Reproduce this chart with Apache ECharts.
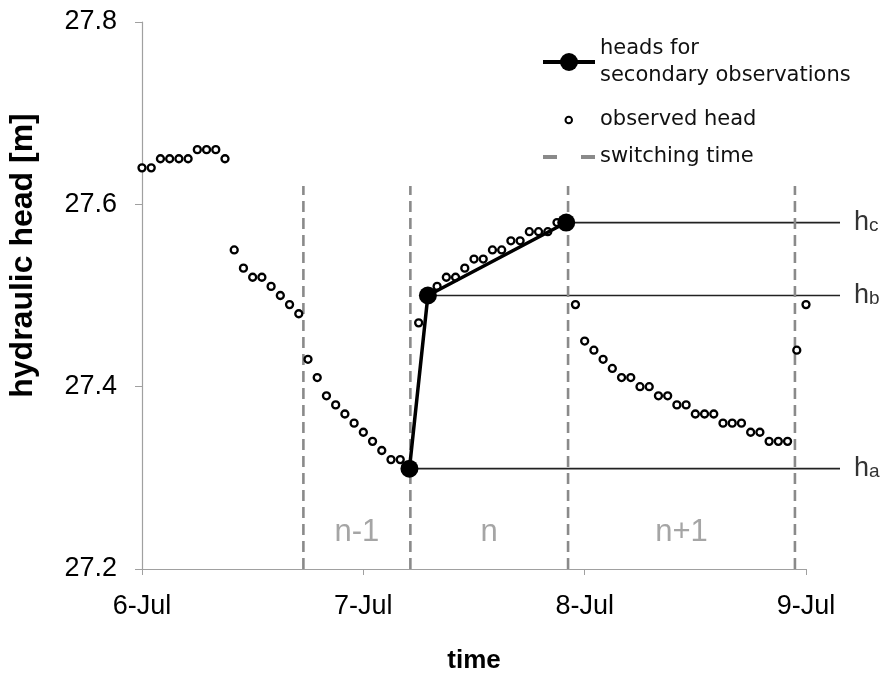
<!DOCTYPE html>
<html>
<head>
<meta charset="utf-8">
<script src="https://cdn.jsdelivr.net/npm/echarts@6/dist/echarts.min.js"></script>
<style>
html,body{margin:0;padding:0;background:#fff;}
#chart{width:882px;height:677px;}
</style>
</head>
<body>
<div id="chart"></div>
<script>
// ---- data (hours since 6-Jul 00:00, head in m) ----
var obsHours = [0,1,2,3,4,5,6,7,8,9,10,11,12,13,14,15,16,17,18,19,20,21,22,23,24,25,26,27,28,29,30,31,32,33,34,35,36,37,38,39,40,41,42,43,44,45,46,47,48,49,50,51,52,53,54,55,56,57,58,59,60,61,62,63,64,65,66,67,68,69,70,71,72];
var obsHead = [27.64,27.64,27.65,27.65,27.65,27.65,27.66,27.66,27.66,27.65,
  27.55,27.53,27.52,27.52,27.51,27.50,27.49,27.48,
  27.43,27.41,27.39,27.38,27.37,27.36,27.35,27.34,27.33,27.32,27.32,
  27.31,27.47,27.50,27.51,27.52,27.52,27.53,27.54,27.54,27.55,27.55,27.56,27.56,27.57,27.57,27.57,27.58,27.58,
  27.49,27.45,27.44,27.43,27.42,27.41,27.41,27.40,27.40,27.39,27.39,27.38,27.38,27.37,27.37,27.37,27.36,27.36,27.36,27.35,27.35,27.34,27.34,27.34,
  27.44,27.49];
var secHours = [29,31,46];
var secHead = [27.31,27.50,27.58];
var secTags = ['a','b','c'];
var refLineEndHour = 75.7;
var switchHours = [17.5,29.1,46.2,70.8];
var switchTopHead = 27.62;
var regionLabels = ['n-1','n','n+1'];
var regionLabelHead = 27.24;
var xTickLabels = ['6-Jul','7-Jul','8-Jul','9-Jul'];

// ---- build ----
var ARIAL = '"Liberation Sans", Arial, sans-serif';
var DEJAVU = '"DejaVu Sans", Verdana, sans-serif';
var SEC_NAME = 'heads for\nsecondary observations';
var OBS_NAME = 'observed head';
var SW_NAME = 'switching time';
var X_MAX = 72;

var series = [];

// horizontal reference lines (drawn in the wider overlay grid)
for (var i = 0; i < secHours.length; i++) {
  series.push({
    name: 'h' + secTags[i],
    type: 'line',
    xAxisIndex: 1, yAxisIndex: 1,
    silent: true,
    symbol: 'none',
    z: 1,
    lineStyle: {color: '#222', width: 1.7},
    data: [[secHours[i], secHead[i]], [refLineEndHour, secHead[i]]],
    endLabel: {
      show: true,
      distance: 14,
      formatter: '{h|h}{s|' + secTags[i] + '}',
      rich: {
        h: {fontFamily: ARIAL, fontSize: 27, color: '#333'},
        s: {fontFamily: ARIAL, fontSize: 19, color: '#333', padding: [6, 0, 0, 0]}
      }
    }
  });
}

// switching time dashed verticals
for (var j = 0; j < switchHours.length; j++) {
  series.push({
    name: SW_NAME,
    type: 'line',
    symbol: 'none',
    silent: true,
    z: 1,
    lineStyle: {color: '#8a8a8a', width: 2.6, type: [11, 6]},
    itemStyle: {color: '#8a8a8a'},
    data: [[switchHours[j], 27.2], [switchHours[j], switchTopHead]]
  });
}

// region labels centred between switching times
var regionData = [];
for (var k = 0; k < regionLabels.length; k++) {
  regionData.push([(switchHours[k] + switchHours[k + 1]) / 2, regionLabelHead, regionLabels[k]]);
}
series.push({
  name: 'regions',
  type: 'scatter',
  symbolSize: 0,
  silent: true,
  data: regionData,
  label: {
    show: true,
    position: 'inside',
    formatter: function (p) { return p.value[2]; },
    fontFamily: ARIAL,
    fontSize: 31,
    color: '#8f8f8f'
  }
});

// observed heads
var obsData = obsHours.map(function (h, i) { return [h, obsHead[i]]; });
series.push({
  name: OBS_NAME,
  type: 'scatter',
  clip: false,
  symbol: 'circle',
  symbolSize: 7,
  z: 3,
  itemStyle: {color: '#fff', borderColor: '#000', borderWidth: 2.3, opacity: 1},
  data: obsData
});

// secondary observation heads
series.push({
  name: SEC_NAME,
  type: 'line',
  symbol: 'circle',
  symbolSize: 18,
  showSymbol: true,
  z: 4,
  lineStyle: {color: '#000', width: 3.5},
  itemStyle: {color: '#000'},
  data: secHours.map(function (h, i) { return [h, secHead[i]]; })
});

var legendText = {fontFamily: DEJAVU, fontSize: 21, color: '#111', lineHeight: 27};

var option = {
  animation: false,
  backgroundColor: '#fff',
  grid: [
    {left: 142, right: 76, top: 22, bottom: 108, containLabel: false, outerBoundsMode: 'none'},
    {left: 142, right: 42, top: 22, bottom: 108, containLabel: false, outerBoundsMode: 'none'}
  ],
  legend: [
    {
      data: [{name: SEC_NAME, lineStyle: {width: 4}}],
      left: 541, top: 35, padding: 0, orient: 'vertical',
      itemWidth: 52, itemHeight: 22.5, selectedMode: false,
      textStyle: legendText
    },
    {
      data: [OBS_NAME],
      left: 564.5, top: 106.5, padding: 0, orient: 'vertical',
      itemWidth: 6.5, itemHeight: 6.5, selectedMode: false,
      textStyle: {fontFamily: DEJAVU, fontSize: 21, color: '#111', lineHeight: 27, padding: [0, 0, 0, 23]}
    },
    {
      data: [{name: SW_NAME, lineStyle: {type: [14, 24], width: 4}, itemStyle: {opacity: 0}}],
      left: 541, top: 143.5, padding: 0, orient: 'vertical',
      itemWidth: 52, itemHeight: 10, selectedMode: false,
      textStyle: legendText
    }
  ],
  xAxis: [
    {
      type: 'value', gridIndex: 0,
      min: 0, max: X_MAX, interval: 24,
      name: 'time',
      nameLocation: 'middle',
      nameGap: 79,
      nameTextStyle: {fontFamily: ARIAL, fontSize: 26, fontWeight: 'bold', color: '#000'},
      axisLine: {show: true, onZero: false, lineStyle: {color: '#a0a0a0', width: 1.2}},
      axisTick: {show: true, length: 6, lineStyle: {color: '#a0a0a0'}},
      axisLabel: {
        margin: 24,
        fontFamily: ARIAL, fontSize: 27, color: '#000',
        formatter: function (v) { return xTickLabels[Math.round(v / 24)]; }
      },
      splitLine: {show: false}
    },
    {
      type: 'value', gridIndex: 1,
      min: 0, max: refLineEndHour,
      show: false
    }
  ],
  yAxis: [
    {
      type: 'value', gridIndex: 0,
      min: 27.2, max: 27.8, interval: 0.2,
      name: 'hydraulic head [m]',
      nameLocation: 'middle',
      nameGap: 103,
      nameTextStyle: {fontFamily: ARIAL, fontSize: 32, fontWeight: 'bold', color: '#000', padding: [0, 0, 0, 80]},
      axisLine: {show: true, lineStyle: {color: '#a0a0a0', width: 1.2}},
      axisTick: {show: true, length: 7, lineStyle: {color: '#a0a0a0'}},
      axisLabel: {
        margin: 25,
        fontFamily: ARIAL, fontSize: 27, color: '#000',
        formatter: function (v) { return v.toFixed(1); }
      },
      splitLine: {show: false}
    },
    {
      type: 'value', gridIndex: 1,
      min: 27.2, max: 27.8,
      show: false
    }
  ],
  series: series
};

var chart = echarts.init(document.getElementById('chart'), null, {renderer: 'canvas'});
chart.setOption(option);
</script>
</body>
</html>
